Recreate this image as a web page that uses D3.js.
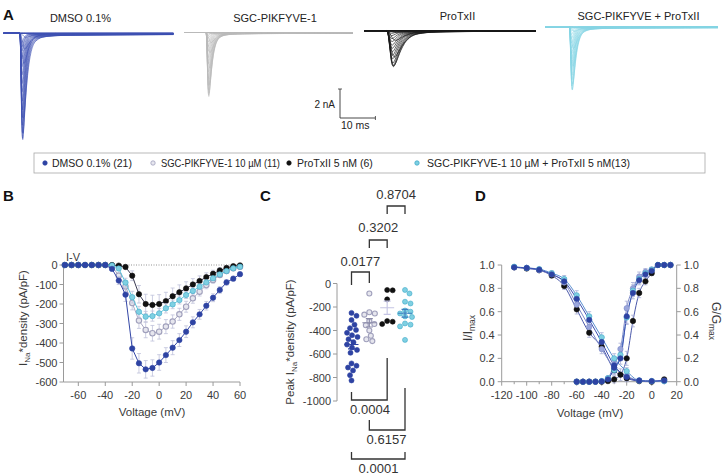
<!DOCTYPE html>
<html><head><meta charset="utf-8">
<script src="https://cdn.jsdelivr.net/npm/d3@7"></script>
<style>
body{margin:0;background:#fff}
svg{display:block}
text{font-family:"Liberation Sans",Arial,Helvetica,sans-serif}
</style>
</head><body>
<svg id="fig" width="723" height="475"></svg>
<script>
// ---------------- DATA ----------------
const groups = ["DMSO 0.1%", "SGC-PIKFYVE-1 10 µM", "ProTxII 5 nM", "SGC-PIKFYVE-1 10 µM + ProTxII 5 nM"];
const groupN = [21, 11, 6, 13];
const legendLabels = ["DMSO 0.1% (21)", "SGC-PIKFYVE-1 10 µM (11)", "ProTxII 5 nM (6)", "SGC-PIKFYVE-1 10 µM + ProTxII 5 nM(13)"];
const traceTitles = ["DMSO 0.1%", "SGC-PIKFYVE-1", "ProTxII", "SGC-PIKFYVE + ProTxII"];

// Panel B: I-V (pA/pF)
const ivVolt = [-70,-65,-60,-55,-50,-45,-40,-35,-30,-25,-20,-15,-10,-5,0,5,10,15,20,25,30,35,40,45,50,55,60];
const ivDMSO = [0,0,0,0,0,0,0,-20,-80,-152,-428,-504,-535,-528,-500,-462,-424,-385,-342,-294,-253,-209,-168,-128,-89,-70,-47];
const ivSGC  = [0,0,0,0,0,0,0,-6,-55,-110,-195,-285,-333,-350,-342,-316,-290,-253,-214,-171,-137,-103,-77,-51,-31,-17,-9];
const ivPTX  = [0,0,0,0,0,0,0,0,-3,-10,-55,-150,-200,-205,-200,-185,-160,-140,-120,-100,-82,-62,-45,-28,-15,-6,-2];
const ivCOMB = [0,0,0,0,0,0,0,-2,-18,-90,-165,-240,-265,-262,-248,-222,-202,-180,-154,-133,-111,-89,-68,-48,-31,-17,-9];
const semDMSO = [0,0,0,0,0,0,0,8,20,35,55,50,45,42,40,38,36,33,30,28,25,22,20,17,14,12,10];
const semSGC  = [0,0,0,0,0,0,0,5,15,25,35,40,40,40,38,36,34,31,28,25,22,19,16,13,10,8,6];
const semPTX  = [0,0,0,0,0,0,0,3,5,10,25,45,50,50,48,45,42,38,34,30,26,22,18,14,10,7,5];
const semCOMB = [0,0,0,0,0,0,0,4,10,22,30,28,27,26,25,24,22,20,18,16,14,12,10,8,6,5,4];
const ivTicksX = [-60,-40,-20,0,20,40,60];
const ivTicksY = [0,-100,-200,-300,-400,-500,-600];

// Panel C: peak density per cell (pA/pF)
const peakDMSO = [-250,-275,-310,-350,-380,-395,-420,-440,-455,-475,-500,-520,-545,-565,-590,-680,-700,-715,-740,-780,-825];
const peakSGC  = [-85,-245,-255,-265,-320,-345,-355,-400,-445,-475,-490];
const peakPTX  = [-55,-58,-135,-320,-325,-345];
const peakCOMB = [-55,-85,-155,-170,-230,-240,-255,-280,-285,-340,-350,-365,-480];
const peakTicks = [0,-200,-400,-600,-800,-1000];
const pTop = ["0.0177","0.3202","0.8704"];
const pBottom = ["0.0004","0.6157","0.0001"];

// Panel D: inactivation (I/Imax) and activation (G/Gmax)
const inVolt = [-110,-100,-90,-80,-70,-60,-50,-40,-30,-20,-10,0,10];
const inDMSO = [0.98,0.975,0.96,0.92,0.86,0.71,0.53,0.34,0.14,0.04,0.01,0.005,0.01];
const inSGC  = [0.98,0.975,0.955,0.92,0.85,0.66,0.47,0.28,0.12,0.05,0.01,0.005,0.005];
const inPTX  = [0.98,0.97,0.955,0.91,0.82,0.62,0.42,0.30,0.10,0.03,0.005,0.0,0.02];
const inCOMB = [0.985,0.975,0.965,0.93,0.88,0.74,0.56,0.38,0.20,0.09,0.01,0.005,0.005];
const inSem  = [0.01,0.01,0.015,0.02,0.03,0.04,0.04,0.04,0.04,0.03,0.01,0.005,0.005];
const acVolt = [-60,-55,-50,-45,-40,-35,-30,-25,-20,-15,-10,-5,0,5,10,15];
const acDMSO = [0,0,0,0,0.003,0.02,0.12,0.2,0.56,0.76,0.87,0.92,0.95,1,1,1];
const acSGC  = [0,0,0,0,0.005,0.03,0.15,0.28,0.63,0.80,0.90,0.94,0.96,1,1,1];
const acPTX  = [0,0,0,0,0,0.005,0.02,0.06,0.2,0.52,0.76,0.86,0.93,1,1,1];
const acCOMB = [0,0,0,0,0.005,0.03,0.1,0.23,0.55,0.78,0.88,0.93,0.96,1,1,1];
const acSem  = [0,0,0,0,0.005,0.01,0.03,0.05,0.06,0.05,0.04,0.03,0.02,0.005,0.005,0.005];
const dTicksX = [-120,-100,-80,-60,-40,-20,0,20];
const dTicksY = [0,0.2,0.4,0.6,0.8,1.0];

// Panel A: current-trace families (built from I-V, cell capacitance and a sampled waveform template)
const traceCap = [13.7, 12.6, 12.1, 16.4];        // pF
const traceOnset = [4.65, 6.25, 6.3, 6.75];       // ms
const traceStretch = [1, 1, 2.4, 1];
const sweepSlow = [1,1,1,1,1,1,1,2.2,1.8,1.5,1.3,1.15,1.05,1.0,0.95,0.92,0.9,0.88,0.86,0.84,0.82,0.8,0.78,0.76,0.74,0.72,0.7];
const templT = [0,0.2,0.4,0.6,0.8,1.0,1.3,1.6,2.0,2.5,3,4,5,7,10,15,25,44];
const templI = [0,0.12,0.5,0.88,1.0,0.93,0.74,0.55,0.36,0.21,0.13,0.07,0.045,0.03,0.022,0.018,0.015,0.012];

// ---------------- STYLE ----------------
const fillCol = ["#2e43a3", "#e6e6ee", "#111111", "#7fd0e2"];
const strokeCol = ["#2e43a3", "#a0a0bc", "#111111", "#3fa9c9"];
const traceCol = ["#3d50b2", "#b9b9b9", "#1a1a1a", "#86d4e4"];
const lineColB = ["#3346a6", "#a9a9c4", "#3a3a52", "#5cc3da"];
const axisCol = "#9a9a9a", txtCol = "#3a3a3a";

const svg = d3.select("#fig");

function letter(t, x, y) {
  svg.append("text").attr("x", x).attr("y", y).attr("font-size", 15).attr("font-weight", "bold").attr("fill", "#111").text(t);
}
letter("A", 3, 19.5); letter("B", 3, 200.5); letter("C", 260, 200.5); letter("D", 475, 200.5);

// ---------------- PANEL A ----------------
const ivAll = [ivDMSO, ivSGC, ivPTX, ivCOMB];
const traceX = [[3.3, 173.3], [184, 353], [364, 536], [545, 718]];
const traceBase = [33.3, 32.5, 30.7, 27];
const titleX = [80.5, 275, 457.5, 638.5];
const titleY = [22, 22, 20, 20];
traceTitles.forEach((t, i) => {
  svg.append("text").attr("x", titleX[i]).attr("y", titleY[i]).attr("text-anchor", "middle")
    .attr("font-size", 11).attr("fill", "#222").text(t);
});
let xT0, yT0;
ivAll.forEach((iv, g) => {
  const xT = d3.scaleLinear().domain([0, 48]).range(traceX[g]);
  const yT = d3.scaleLinear().domain([0, -8]).range([traceBase[g], traceBase[g] + 116]);
  if (g === 0) { xT0 = xT; yT0 = yT; }
  const line = d3.line().x(d => xT(d[0])).y(d => yT(d[1])).curve(d3.curveMonotoneX);
  const gg = svg.append("g");
  iv.forEach((v, s) => {
    const amp = v * traceCap[g] / 1000;
    const st = traceStretch[g] * sweepSlow[s];
    const pts = [[0, 0]];
    templT.forEach((tt, k) => {
      const t = traceOnset[g] + tt * st;
      if (t <= 48) pts.push([t, amp * templI[k]]);
    });
    pts.push([48, amp * templI[templI.length - 1]]);
    gg.append("path").attr("d", line(pts)).attr("fill", "none")
      .attr("stroke", traceCol[g]).attr("stroke-width", 0.9).attr("stroke-opacity", g === 2 ? 0.75 : 0.65);
  });
});
// scale bar
{
  const x0 = 340, yb = 118;
  const h = yT0(-2) - yT0(0), w = xT0(10) - xT0(0);
  svg.append("path").attr("d", `M${x0},${yb - h}V${yb}H${x0 + w}`).attr("fill", "none").attr("stroke", "#333").attr("stroke-width", 0.9);
  svg.append("path").attr("d", `M${x0 - 2},${yb - h}H${x0 + 2}M${x0 + w},${yb - 2}V${yb + 2}`).attr("stroke", "#333").attr("stroke-width", 0.8);
  svg.append("text").attr("x", x0 - 5).attr("y", yb - h / 2 + 4).attr("text-anchor", "end").attr("font-size", 10).attr("fill", "#222").text("2 nA");
  svg.append("text").attr("x", x0 + 1).attr("y", yb + 11).attr("font-size", 10.5).attr("fill", "#222").text("10 ms");
}

// ---------------- LEGEND ----------------
svg.append("rect").attr("x", 34).attr("y", 153).attr("width", 671).attr("height", 20)
  .attr("fill", "#fff").attr("stroke", "#a8a8a8").attr("stroke-width", 0.8);
const legMX = [45, 153, 289, 417], legTX = [52, 161, 297, 427];
legendLabels.forEach((t, i) => {
  svg.append("circle").attr("cx", legMX[i]).attr("cy", 163).attr("r", 2.2)
    .attr("fill", fillCol[i]).attr("stroke", strokeCol[i]).attr("stroke-width", 0.8);
  const tx = svg.append("text").attr("x", legTX[i]).attr("y", 166.8).attr("font-size", 10.5).attr("fill", "#222").text(t);
  if (i === 1) tx.attr("textLength", 119).attr("lengthAdjust", "spacingAndGlyphs");
});

// ---------------- PANEL B ----------------
const xB = d3.scaleLinear().domain([-71, 60]).range([63.5, 240]);
const yB = d3.scaleLinear().domain([0, -600]).range([265, 382]);
const gB = svg.append("g");
gB.append("line").attr("x1", xB(-71)).attr("x2", xB(60)).attr("y1", yB(0)).attr("y2", yB(0))
  .attr("stroke", "#777").attr("stroke-width", 0.8).attr("stroke-dasharray", "1,1.5");
gB.append("line").attr("x1", xB(-71)).attr("x2", xB(-71)).attr("y1", yB(0)).attr("y2", yB(-600)).attr("stroke", axisCol);
gB.append("line").attr("x1", xB(-71)).attr("x2", xB(60)).attr("y1", yB(-600)).attr("y2", yB(-600)).attr("stroke", axisCol);
ivTicksY.forEach(v => {
  gB.append("line").attr("x1", xB(-71) - 4).attr("x2", xB(-71)).attr("y1", yB(v)).attr("y2", yB(v)).attr("stroke", axisCol);
  gB.append("text").attr("x", xB(-71) - 6).attr("y", yB(v) + 4).attr("text-anchor", "end").attr("font-size", 11).attr("fill", txtCol).text(v);
});
ivTicksX.forEach(v => {
  gB.append("line").attr("x1", xB(v)).attr("x2", xB(v)).attr("y1", yB(-600)).attr("y2", yB(-600) + 4).attr("stroke", axisCol);
  gB.append("text").attr("x", xB(v)).attr("y", yB(-600) + 17).attr("text-anchor", "middle").attr("font-size", 11).attr("fill", txtCol).text(v);
});
gB.append("text").attr("x", 152).attr("y", 416).attr("text-anchor", "middle").attr("font-size", 11.5).attr("fill", txtCol).text("Voltage (mV)");
gB.append("text").attr("x", 66).attr("y", 261).attr("font-size", 11).attr("fill", txtCol).text("I-V");
{
  const t = gB.append("text").attr("transform", "translate(27,318) rotate(-90)").attr("text-anchor", "middle").attr("font-size", 11.5).attr("fill", txtCol);
  t.append("tspan").text("I");
  t.append("tspan").attr("font-size", 8).attr("dy", 3).text("Na");
  t.append("tspan").attr("dy", -3).text("*density (pA/pF)");
}
const semAll = [semDMSO, semSGC, semPTX, semCOMB];
const lineB = d3.line().x((d, i) => xB(ivVolt[i])).y(d => yB(d));
[1, 2, 3, 0].forEach(g => {
  const iv = ivAll[g], sem = semAll[g];
  const grp = gB.append("g");
  iv.forEach((v, i) => {
    if (sem[i] <= 0) return;
    const x = xB(ivVolt[i]);
    grp.append("path").attr("d", `M${x},${yB(v - sem[i])}V${yB(v + sem[i])}M${x - 2},${yB(v - sem[i])}H${x + 2}M${x - 2},${yB(v + sem[i])}H${x + 2}`)
      .attr("stroke", "#bfc2da").attr("stroke-width", 0.8).attr("fill", "none");
  });
  grp.append("path").attr("d", lineB(iv)).attr("fill", "none").attr("stroke", lineColB[g]).attr("stroke-width", 1);
  iv.forEach((v, i) => {
    grp.append("circle").attr("cx", xB(ivVolt[i])).attr("cy", yB(v)).attr("r", 2.7)
      .attr("fill", fillCol[g]).attr("stroke", strokeCol[g]).attr("stroke-width", g === 1 ? 1.1 : 0.6);
  });
});

// ---------------- PANEL C ----------------
const yC = d3.scaleLinear().domain([0, -1000]).range([283.5, 401]);
const xC = d3.scalePoint().domain(groups).range([351.5, 405]);
const axC = 337;
const gC = svg.append("g");
gC.append("line").attr("x1", axC).attr("x2", axC).attr("y1", yC(0)).attr("y2", yC(-1000)).attr("stroke", axisCol);
peakTicks.forEach(v => {
  gC.append("line").attr("x1", axC - 4).attr("x2", axC).attr("y1", yC(v)).attr("y2", yC(v)).attr("stroke", axisCol);
  gC.append("text").attr("x", axC - 6).attr("y", yC(v) + 4).attr("text-anchor", "end").attr("font-size", 11).attr("fill", txtCol).text(v);
});
{
  const t = gC.append("text").attr("transform", "translate(294,342) rotate(-90)").attr("text-anchor", "middle").attr("font-size", 11.5).attr("fill", txtCol);
  t.append("tspan").text("Peak I");
  t.append("tspan").attr("font-size", 8).attr("dy", 3).text("Na");
  t.append("tspan").attr("dy", -3).text("*density (pA/pF)");
}
function swarm(values, cx, r) {
  const pts = [];
  values.map(v => ({ v, y: yC(v) })).sort((a, b) => a.y - b.y).forEach(p => {
    let x = cx;
    for (let k = 0; k < 80; k++) {
      const off = (k % 2 ? 1 : -1) * Math.ceil(k / 2) * 0.5;
      const xx = cx + off;
      if (pts.every(q => (q.x - xx) ** 2 + (q.y - p.y) ** 2 >= (2 * r + 0.4) ** 2)) { x = xx; break; }
    }
    pts.push({ x, y: p.y, v: p.v });
  });
  return pts;
}
const peakAll = [peakDMSO, peakSGC, peakPTX, peakCOMB];
const meanCol = ["#2e43a3", "#8a8aa8", "#c4c4e4", "#3d7fbf"];
peakAll.forEach((vals, g) => {
  const cx = xC(groups[g]);
  swarm(vals, cx, 2.5).forEach(p => {
    gC.append("circle").attr("cx", p.x).attr("cy", p.y).attr("r", 2.5)
      .attr("fill", fillCol[g]).attr("stroke", strokeCol[g]).attr("stroke-width", g === 1 ? 1.1 : 0.6);
  });
  const m = d3.mean(vals), se = d3.deviation(vals) / Math.sqrt(vals.length);
  gC.append("path").attr("d", `M${cx - 7},${yC(m)}H${cx + 7}M${cx},${yC(m - se)}V${yC(m + se)}M${cx - 3.5},${yC(m - se)}H${cx + 3.5}M${cx - 3.5},${yC(m + se)}H${cx + 3.5}`)
    .attr("stroke", meanCol[g]).attr("stroke-width", 1.1).attr("fill", "none");
});
// significance brackets
const bracketTop = [
  { a: 0, b: 1, y: 272, la: 285, lb: 283, ty: 265.5 },
  { a: 1, b: 2, y: 240, la: 248, lb: 248, ty: 232 },
  { a: 2, b: 3, y: 206, la: 214, lb: 214, ty: 199 }];
bracketTop.forEach((d, i) => {
  const x1 = xC(groups[d.a]), x2 = xC(groups[d.b]);
  gC.append("path").attr("d", `M${x1},${d.la}V${d.y}H${x2}V${d.lb}`).attr("fill", "none").attr("stroke", "#333").attr("stroke-width", 1.3);
  gC.append("text").attr("x", (x1 + x2) / 2).attr("y", d.ty).attr("text-anchor", "middle")
    .attr("font-size", 13).attr("fill", "#333").text(pTop[i]);
});
const bracketBot = [
  { a: 0, b: 2, y: 400, la: 392, lb: 358, tx: 370, ty: 414 },
  { a: 1, b: 3, y: 430, la: 420, lb: 388, tx: 386.5, ty: 443.5 },
  { a: 0, b: 3, y: 459, la: 452, lb: 452, tx: 378.5, ty: 473 }];
bracketBot.forEach((d, i) => {
  const x1 = xC(groups[d.a]), x2 = xC(groups[d.b]);
  gC.append("path").attr("d", `M${x1},${d.la}V${d.y}H${x2}V${d.lb}`).attr("fill", "none").attr("stroke", "#333").attr("stroke-width", 1.3);
  gC.append("text").attr("x", d.tx).attr("y", d.ty).attr("text-anchor", "middle")
    .attr("font-size", 13).attr("fill", "#333").text(pBottom[i]);
});

// ---------------- PANEL D ----------------
const xD = d3.scaleLinear().domain([-120, 20]).range([501.7, 676.7]);
const yD = d3.scaleLinear().domain([0, 1]).range([381.7, 265]);
const gD = svg.append("g");
gD.append("line").attr("x1", xD(-120)).attr("x2", xD(-120)).attr("y1", yD(0)).attr("y2", yD(1)).attr("stroke", axisCol);
gD.append("line").attr("x1", xD(20)).attr("x2", xD(20)).attr("y1", yD(0)).attr("y2", yD(1)).attr("stroke", axisCol);
gD.append("line").attr("x1", xD(-120)).attr("x2", xD(20)).attr("y1", yD(0)).attr("y2", yD(0)).attr("stroke", axisCol);
dTicksY.forEach(v => {
  gD.append("line").attr("x1", xD(-120) - 4).attr("x2", xD(-120)).attr("y1", yD(v)).attr("y2", yD(v)).attr("stroke", axisCol);
  gD.append("line").attr("x1", xD(20)).attr("x2", xD(20) + 4).attr("y1", yD(v)).attr("y2", yD(v)).attr("stroke", axisCol);
  gD.append("text").attr("x", xD(-120) - 7).attr("y", yD(v) + 4).attr("text-anchor", "end").attr("font-size", 11).attr("fill", txtCol).text(d3.format(".1f")(v));
  gD.append("text").attr("x", xD(20) + 7).attr("y", yD(v) + 4).attr("font-size", 11).attr("fill", txtCol).text(d3.format(".1f")(v));
});
d3.range(-120, 21, 10).forEach(v => {
  const major = dTicksX.includes(v);
  gD.append("line").attr("x1", xD(v)).attr("x2", xD(v)).attr("y1", yD(0)).attr("y2", yD(0) + (major ? 4 : 2.5)).attr("stroke", axisCol);
});
dTicksX.forEach(v => {
  gD.append("text").attr("x", xD(v)).attr("y", yD(0) + 17).attr("text-anchor", "middle").attr("font-size", 11).attr("fill", txtCol).text(v);
});
gD.append("text").attr("x", 590).attr("y", 417).attr("text-anchor", "middle").attr("font-size", 11.5).attr("fill", txtCol).text("Voltage (mV)");
{
  const t = gD.append("text").attr("transform", "translate(472,328) rotate(-90)").attr("text-anchor", "middle").attr("font-size", 12).attr("fill", txtCol);
  t.append("tspan").text("I/I");
  t.append("tspan").attr("font-size", 8.5).attr("dy", 3).text("max");
  const t2 = gD.append("text").attr("transform", "translate(712,321) rotate(90)").attr("text-anchor", "middle").attr("font-size", 12).attr("fill", txtCol);
  t2.append("tspan").text("G/G");
  t2.append("tspan").attr("font-size", 8.5).attr("dy", 3).text("max");
}
const inAll = [inDMSO, inSGC, inPTX, inCOMB];
const acAll = [acDMSO, acSGC, acPTX, acCOMB];
const lineD = d3.line().x(d => xD(d[0])).y(d => yD(d[1])).curve(d3.curveMonotoneX);
const dLineCol = ["#3a4db0", "#7c88c8", "#4a58aa", "#5a8fd0"];
[2, 1, 3, 0].forEach(g => {
  [[inVolt, inAll[g], inSem], [acVolt, acAll[g], acSem]].forEach(([vx, vy, se]) => {
    gD.append("path").attr("d", lineD(vx.map((v, i) => [v, vy[i]]))).attr("fill", "none")
      .attr("stroke", dLineCol[g]).attr("stroke-width", 1);
    vx.forEach((v, i) => {
      if (se[i] < 0.01) return;
      const x = xD(v);
      gD.append("path").attr("d", `M${x},${yD(vy[i] - se[i])}V${yD(vy[i] + se[i])}M${x - 2},${yD(vy[i] - se[i])}H${x + 2}M${x - 2},${yD(vy[i] + se[i])}H${x + 2}`)
        .attr("stroke", "#a9b0d8").attr("stroke-width", 0.8).attr("fill", "none");
    });
  });
});
[2, 1, 3, 0].forEach(g => {
  [[inVolt, inAll[g]], [acVolt, acAll[g]]].forEach(([vx, vy]) => {
    vx.forEach((v, i) => {
      gD.append("circle").attr("cx", xD(v)).attr("cy", yD(vy[i])).attr("r", 2.7)
        .attr("fill", g === 1 ? "#9aa6dc" : fillCol[g]).attr("stroke", g === 1 ? "#7f8cc8" : strokeCol[g]).attr("stroke-width", 0.6);
    });
  });
});
</script>
</body></html>
